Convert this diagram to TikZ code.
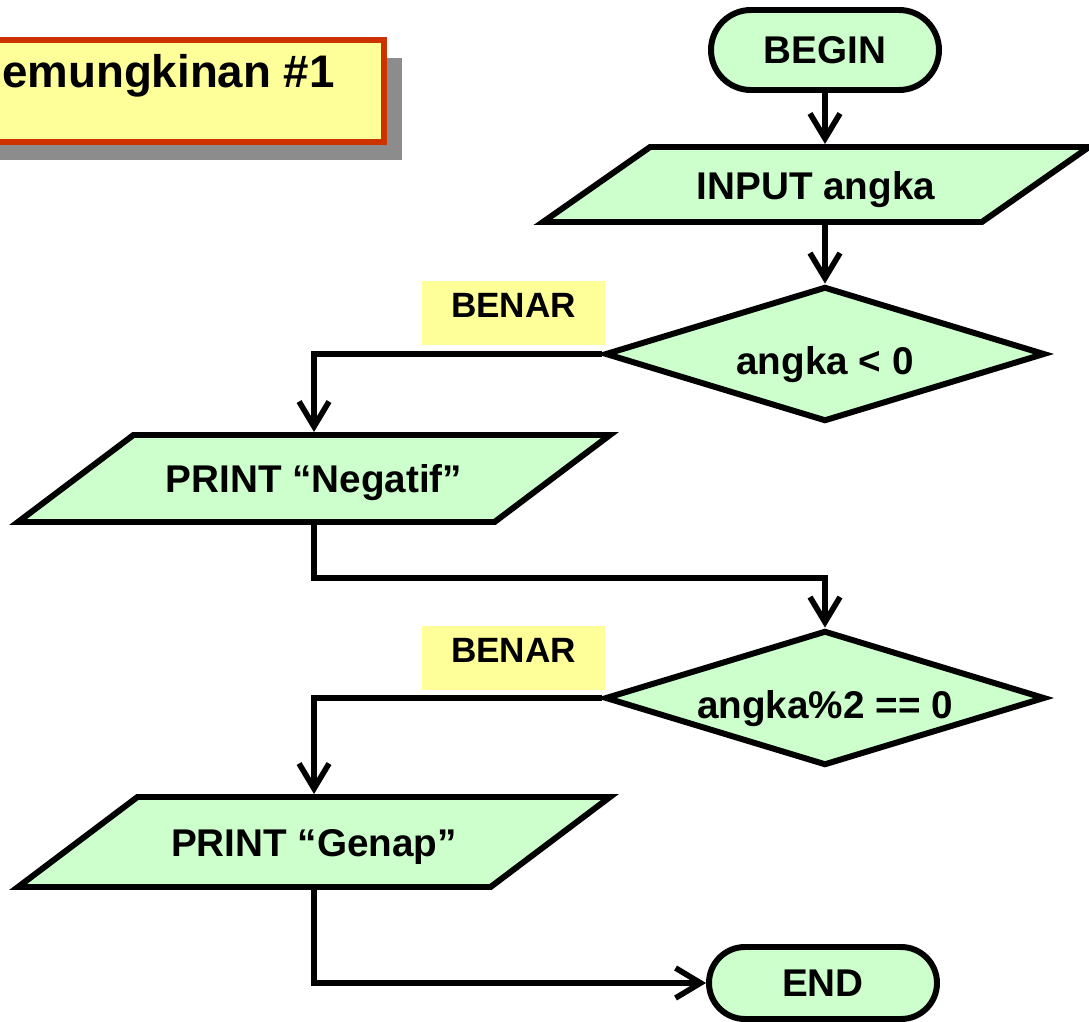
\documentclass[tikz,border=0pt]{standalone}
\usepackage{fontspec}
\setmainfont{Liberation Sans}
\usetikzlibrary{shapes.geometric,shapes.misc,arrows.meta,shadows}
\definecolor{flowgreen}{HTML}{CCFFCC}
\definecolor{noteyellow}{HTML}{FFFF99}
\definecolor{titlered}{HTML}{CC3300}
\definecolor{shadowgray}{HTML}{8C8C8C}
\begin{document}
\begin{tikzpicture}[>={Straight Barb[length=5mm,width=6mm]},
  font=\fontsize{22}{26}\selectfont\bfseries,
  terminal/.style={draw, line width=3.4pt, fill=flowgreen, rounded rectangle, minimum width=4.56cm, minimum height=1.6cm, inner sep=0pt},
  io/.style={draw, line width=3.4pt, fill=flowgreen, trapezium, trapezium left angle=#1, trapezium right angle=180-#1, trapezium stretches body=true, inner xsep=0pt, inner ysep=0pt},
  decision/.style={draw, line width=3.4pt, fill=flowgreen, diamond, aspect=3.26, minimum width=8.8cm, minimum height=2.7cm, inner sep=0pt, text height=0.9cm, text depth=0.064cm},
  note/.style={fill=noteyellow, minimum width=3.66cm, minimum height=1.28cm, text height=0.5cm, text depth=0.32cm, font=\fontsize{20}{24}\selectfont\bfseries},
  flow/.style={line width=3.2pt}]
\useasboundingbox (0,0) rectangle (21.78,-20.44);
\node[draw=titlered, line width=3.4pt, fill=noteyellow, inner sep=0pt, minimum width=9.28cm, text height=0.96cm, text depth=1.08cm, font=\fontsize{26}{30}\selectfont\bfseries, drop shadow={shadow xshift=0.36cm, shadow yshift=-0.36cm, fill=shadowgray, opacity=1}] (title) at (3.04,-1.82) {\phantom{K}emungkinan \#1};
\node[terminal] (begin) at (16.5,-1.0) {BEGIN};
\node[io=35, minimum width=10.92cm, text height=1.05cm, text depth=0.45cm] (input) at (16.32,-3.69) {INPUT angka};
\node[decision] (cek1) at (16.5,-7.08) {angka < 0};
\node[note] (benar1) at (10.27,-6.26) {BENAR\hspace{0.2cm}};
\node[io=37, minimum width=11.84cm, text height=1.15cm, text depth=0.59cm] (negatif) at (6.28,-9.57) {PRINT “Negatif”};
\coordinate (belok) at (6.28,-11.56);
\node[decision] (cek2) at (16.5,-13.96) {angka\%2 == 0};
\node[note] (benar2) at (10.27,-13.15) {BENAR\hspace{0.2cm}};
\node[io=37, minimum width=11.84cm, text height=1.18cm, text depth=0.62cm] (genap) at (6.28,-16.84) {PRINT “Genap”};
\node[terminal, minimum height=1.44cm] (end) at (16.46,-19.66) {END};
\draw[flow,->] (begin.south) -- (begin.south |- input.north);
\draw[flow,->] (input.south -| begin) -- (cek1.north);
\draw[flow,->] (cek1.west) -| (negatif.north);
\draw[flow,->] (negatif.south) -- (belok) -| (cek2.north);
\draw[flow,->] (cek2.west) -| (genap.north);
\draw[flow,->] (genap.south) |- (end.west);
\end{tikzpicture}
\end{document}
